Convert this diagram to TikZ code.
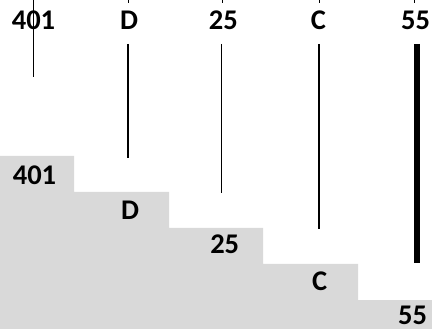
\documentclass[tikz,border=0pt]{standalone}
\usepackage{fontspec}
\setmainfont{Carlito}
\definecolor{stepgrey}{HTML}{D9D9D9}
\begin{document}
\begin{tikzpicture}[x=1pt,y=-1pt,
  lbl/.style={anchor=base,inner sep=0pt,font=\fontsize{28.5}{30}\selectfont\bfseries},
  tick/.style={line width=0.8pt},
  bar/.style={line width=1.8pt},
  thickbar/.style={line width=5.5pt}]
\useasboundingbox (0,0) rectangle (432,329);
% staircase
\fill[stepgrey] (0,156) -- (74,156) -- (74,192) -- (169,192) -- (169,228) -- (263,228)
  -- (263,264) -- (358,264) -- (358,300) -- (432,300) -- (432,329) -- (0,329) -- cycle;
% top labels
\node[lbl] (t1) at (33.5,29.3) {401};
\node[lbl] (t2) at (129,29.3) {D};
\node[lbl] (t3) at (223.3,29.3) {25};
\node[lbl] (t4) at (318.5,29.3) {C};
\node[lbl] (t5) at (415.5,29.3) {55};
% step labels
\node[lbl] (s1) at (34.5,184.3) {401};
\node[lbl] (s2) at (130,219) {D};
\node[lbl] (s3) at (224.7,254) {25};
\node[lbl] (s4) at (319.7,290.7) {C};
\node[lbl] (s5) at (412.5,324) {55};
% coordinates
\coordinate (a0) at (33,0);   \coordinate (a1) at (33,77);
\coordinate (b0) at (128,0);  \coordinate (b1) at (128,3.5);
\coordinate (b2) at (128,44); \coordinate (b3) at (128,158);
\coordinate (c0) at (222,0);  \coordinate (c1) at (222,3.5);
\coordinate (c2) at (221.5,44); \coordinate (c3) at (221.5,193);
\coordinate (d0) at (319,0);  \coordinate (d1) at (319,3.5);
\coordinate (d2) at (319,44); \coordinate (d3) at (319,229);
\coordinate (e0) at (414,0);  \coordinate (e1) at (414,3.5);
\coordinate (e2) at (417,44); \coordinate (e3) at (417,263);
% lines
\draw[tick] (a0) -- (a1);
\draw[tick] (b0) -- (b1);
\draw[tick] (c0) -- (c1);
\draw[tick] (d0) -- (d1);
\draw[tick] (e0) -- (e1);
\draw[bar] (b2) -- (b3);
\draw[bar] (c2) -- (c3);
\draw[bar] (d2) -- (d3);
\draw[thickbar] (e2) -- (e3);
\end{tikzpicture}
\end{document}
